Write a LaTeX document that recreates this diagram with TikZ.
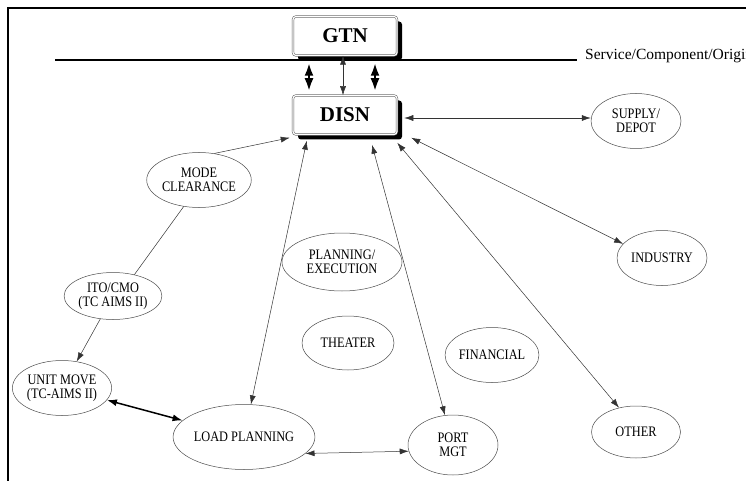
\documentclass[tikz,border=0pt]{standalone}
\usepackage{fontspec}
\setmainfont{Liberation Serif}
\newfontfamily\narrowserif[FakeStretch=0.85]{Liberation Serif}
\usetikzlibrary{arrows.meta,positioning,shapes.geometric,shadows}

\tikzset{
  sysbox/.style={rectangle, rounded corners=3pt, draw=black!65, double=white,
    double distance=1.2pt, line width=0.5pt, fill=white,
    minimum width=104pt, minimum height=39pt,
    font=\bfseries\fontsize{21}{22}\selectfont,
    drop shadow={shadow xshift=5pt, shadow yshift=-5pt, fill=black, opacity=1}},
  bubble/.style={ellipse, draw=black!70, line width=0.5pt, inner sep=0pt,
    align=center, font=\narrowserif\fontsize{14.5}{14}\selectfont},
  link/.style={draw=black!80, line width=0.5pt,
    {Latex[length=9pt,width=6pt]}-{Latex[length=9pt,width=6pt]}},
  onelink/.style={draw=black!80, line width=0.5pt, -{Latex[length=9pt,width=6pt]}},
  fatlink/.style={draw=black, line width=2.5pt,
    {Latex[length=13pt,width=9pt]}-{Latex[length=13pt,width=9pt]}},
}

\begin{document}
\begin{tikzpicture}[x=1pt,y=-1pt]
  \useasboundingbox (0,0) rectangle (746,481);
  \clip (0,0) rectangle (746,481);

  % frame and service line
  \draw[line width=2.5pt] (8,481) -- (8,8) -- (746,8);
  \draw[line width=1.8pt] (55,60) -- (577,60);
  \node[anchor=base west, inner sep=0pt, font=\fontsize{15.5}{16}\selectfont] (svc) at (585,60) {Service/Component/Origin};

  % systems
  \node[sysbox] (gtn) at (345,36) {GTN};
  \node[sysbox] (disn) at (345,115) {DISN};

  % bubbles
  \node[bubble, minimum width=90pt, minimum height=55pt] (supply) at (636,121) {SUPPLY/\\DEPOT};
  \node[bubble, minimum width=92pt, minimum height=55pt] (mode) at (199,180) {MODE\\CLEARANCE};
  \node[bubble, minimum width=90pt, minimum height=47pt] (ito) at (113,296) {ITO/CMO\\(TC AIMS II)};
  \node[bubble, minimum width=91pt, minimum height=55pt] (unit) at (62,388) {UNIT MOVE\\(TC-AIMS II)};
  \node[bubble, minimum width=112pt, minimum height=65pt] (load) at (244,437) {LOAD PLANNING};
  \node[bubble, minimum width=90pt, minimum height=60pt] (port) at (453,445) {PORT\\MGT};
  \node[bubble, minimum width=120pt, minimum height=58pt] (plan) at (342,262) {PLANNING/\\EXECUTION};
  \node[bubble, minimum width=92pt, minimum height=54pt] (theater) at (348,343) {THEATER};
  \node[bubble, minimum width=91pt, minimum height=55pt] (fin) at (492,355) {FINANCIAL};
  \node[bubble, minimum width=90pt, minimum height=55pt] (industry) at (662,258) {INDUSTRY};
  \node[bubble, minimum width=89pt, minimum height=52pt] (other) at (636,432) {OTHER};

  % GTN <-> DISN
  \draw[fatlink, shorten <=7pt, shorten >=4pt] ([xshift=-36pt]gtn.south) -- ([xshift=-36pt]disn.north);
  \draw[link] ([xshift=-2pt]gtn.south) -- ([xshift=-2pt]disn.north);
  \draw[fatlink, shorten <=7pt, shorten >=4pt] ([xshift=30pt]gtn.south) -- ([xshift=30pt]disn.north);

  % DISN links
  \draw[link] ([xshift=7pt,yshift=-3pt]disn.east) -- ([yshift=3pt]supply.west);
  \draw[onelink] (mode.60) -- ([xshift=-3pt,yshift=-3pt]disn.south west);
  \draw[link] (load) -- ([xshift=14pt,yshift=-6pt]disn.south west);
  \draw[link] (port) -- ([xshift=27pt,yshift=-10pt]disn.south);
  \draw[link] ([xshift=0pt,yshift=-8pt]disn.south east) -- (other.125);
  \draw[link] ([xshift=14pt,yshift=-3pt]disn.south east) -- (industry.160);

  % chain on the left
  \draw[draw=black!80, line width=0.5pt] (mode.-120) -- (ito.45);
  \draw[onelink] (ito) -- (unit);
  \draw[line width=1.5pt, {Latex[length=10pt,width=7pt]}-{Latex[length=10pt,width=7pt]}] (unit) -- (load);
  \draw[link] (load.-15) -- (port.188);
\end{tikzpicture}
\end{document}
